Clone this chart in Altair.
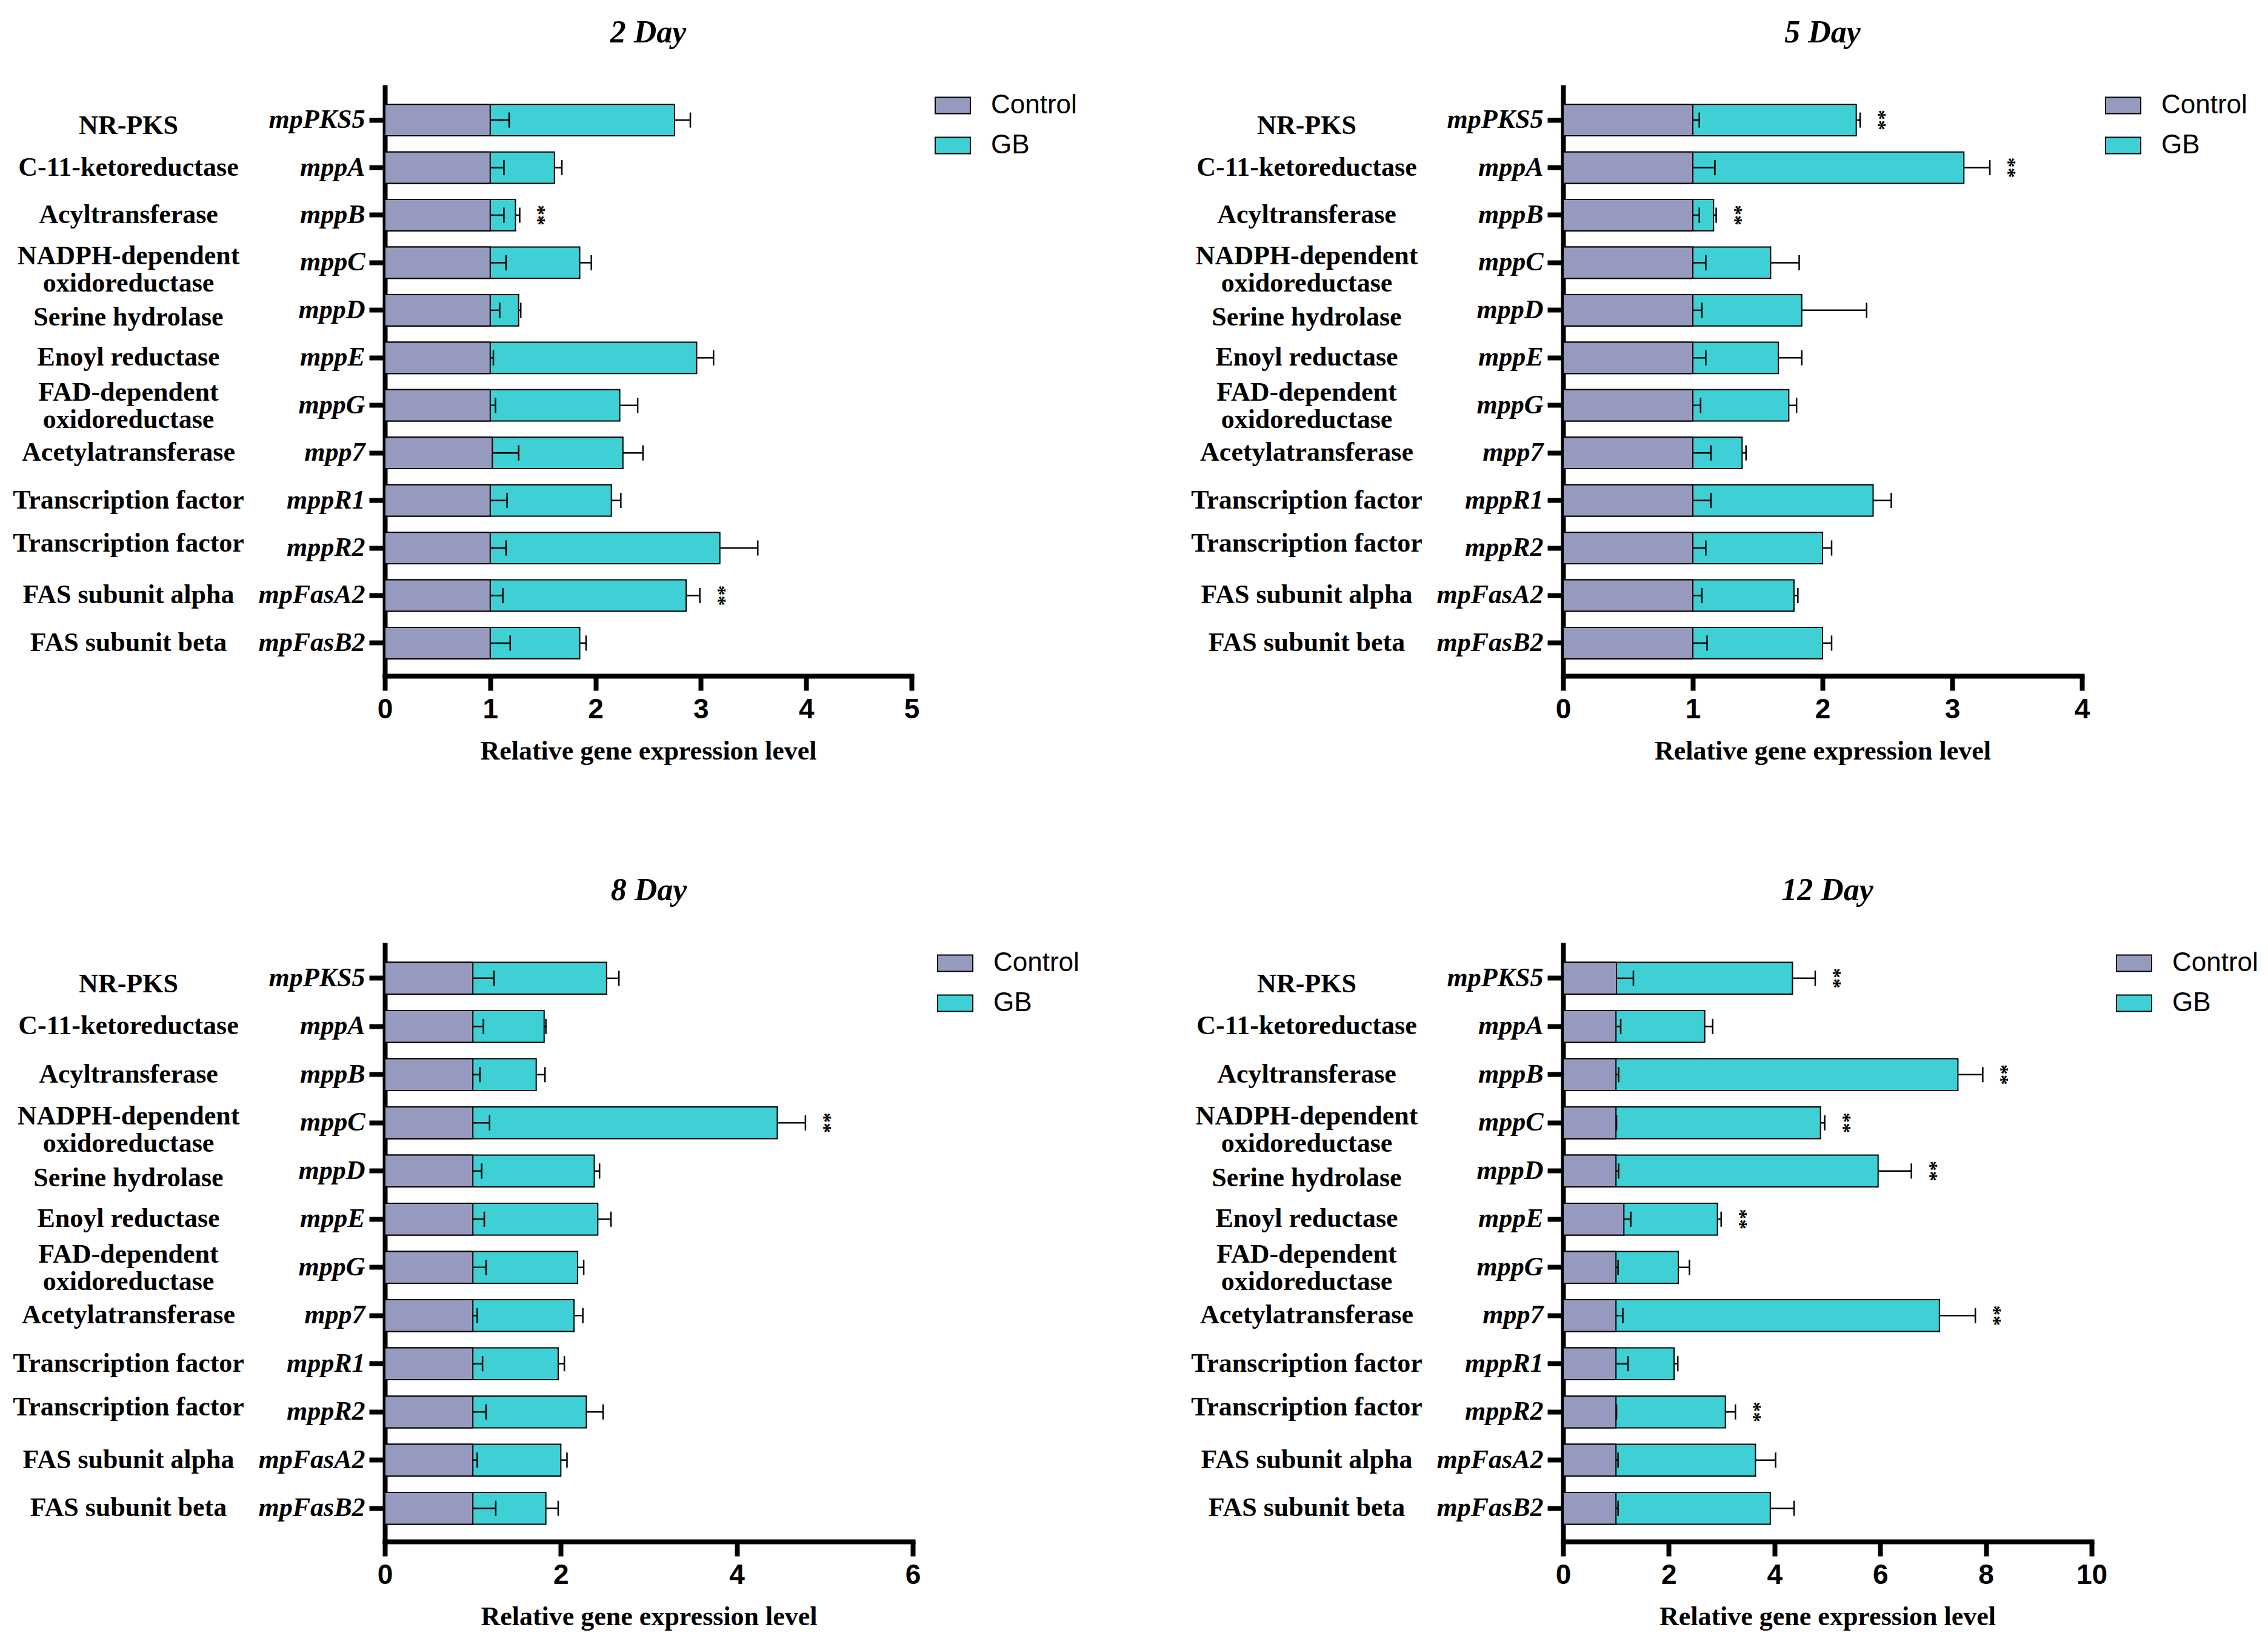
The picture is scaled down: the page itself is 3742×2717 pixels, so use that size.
import altair as alt
import pandas as pd
import json

genes = ["mpPKS5", "mppA", "mppB", "mppC", "mppD", "mppE", "mppG", "mpp7",
         "mppR1", "mppR2", "mpFasA2", "mpFasB2"]
functions = ["NR-PKS", "C-11-ketoreductase", "Acyltransferase",
             "NADPH-dependent\noxidoreductase", "Serine hydrolase", "Enoyl reductase",
             "FAD-dependent\noxidoreductase", "Acetylatransferase", "Transcription factor",
             "Transcription factor", "FAS subunit alpha", "FAS subunit beta"]
groups = ["Control", "GB"]

# 2 Day
ctrl_mean_2 = [1.0, 1.0, 1.0, 1.0, 1.0, 1.0, 1.0, 1.02, 1.0, 1.0, 1.0, 1.0]
ctrl_sd_2 = [0.18, 0.13, 0.13, 0.15, 0.09, 0.03, 0.05, 0.25, 0.16, 0.15, 0.12, 0.19]
gb_mean_2 = [2.75, 1.61, 1.24, 1.85, 1.27, 2.96, 2.23, 2.26, 2.15, 3.18, 2.86, 1.85]
gb_sd_2 = [0.15, 0.07, 0.04, 0.11, 0.02, 0.16, 0.17, 0.19, 0.09, 0.36, 0.13, 0.06]
sig_2 = ["mppB", "mpFasA2"]

# 5 Day
ctrl_mean_5 = [1.0] * 12
ctrl_sd_5 = [0.05, 0.17, 0.05, 0.10, 0.07, 0.10, 0.06, 0.14, 0.14, 0.10, 0.07, 0.11]
gb_mean_5 = [2.26, 3.09, 1.16, 1.60, 1.84, 1.66, 1.74, 1.38, 2.39, 2.00, 1.78, 2.00]
gb_sd_5 = [0.03, 0.20, 0.02, 0.22, 0.50, 0.18, 0.06, 0.03, 0.14, 0.07, 0.03, 0.07]
sig_5 = ["mpPKS5", "mppA", "mppB"]

# 8 Day
ctrl_mean_8 = [1.0] * 12
ctrl_sd_8 = [0.24, 0.12, 0.08, 0.19, 0.10, 0.13, 0.15, 0.05, 0.11, 0.15, 0.05, 0.26]
gb_mean_8 = [2.52, 1.81, 1.72, 4.46, 2.38, 2.42, 2.19, 2.15, 1.97, 2.29, 2.00, 1.83]
gb_sd_8 = [0.14, 0.02, 0.10, 0.32, 0.06, 0.15, 0.07, 0.10, 0.07, 0.19, 0.07, 0.14]
sig_8 = ["mppC"]

# 12 Day
ctrl_mean_12 = [1.01, 1.0, 1.0, 1.0, 1.0, 1.15, 1.0, 1.0, 1.0, 1.0, 1.0, 1.0]
ctrl_sd_12 = [0.32, 0.09, 0.05, 0.01, 0.05, 0.13, 0.04, 0.13, 0.23, 0.01, 0.04, 0.04]
gb_mean_12 = [4.34, 2.68, 7.47, 4.87, 5.96, 2.92, 2.18, 7.12, 2.10, 3.07, 3.64, 3.92]
gb_sd_12 = [0.43, 0.15, 0.47, 0.08, 0.63, 0.07, 0.21, 0.68, 0.07, 0.19, 0.38, 0.45]
sig_12 = ["mpPKS5", "mppB", "mppC", "mppD", "mppE", "mpp7", "mppR2"]

CTRL_COLOR = "#979ABF"
GB_COLOR = "#3ED0D4"
SERIF = "Liberation Serif"
SANS = "Liberation Sans"
NARROW = "Liberation Sans Narrow, Liberation Sans"
XTITLE = "Relative gene expression level"

# vertical nudges of the function labels (styling, px; first line for two-line labels)
FUNC_NUDGE = {10: ["mpPKS5"], -10: ["mppC"], 12: ["mppD"], -21: ["mppG"], -7: ["mppR2"]}
LEGEND_PATH = "M-1,-0.466H1V0.466H-1Z"


def panel(day, ctrl_mean, ctrl_sd, gb_mean, gb_sd, sig, xmax, xstep, w, h, legend_x):
    rows = []
    for i, g in enumerate(genes):
        rows.append(dict(gene=g, func=functions[i], group="GB", mean=gb_mean[i],
                         upper=gb_mean[i] + gb_sd[i], sig="**" if g in sig else ""))
        rows.append(dict(gene=g, func=functions[i], group="Control", mean=ctrl_mean[i],
                         upper=ctrl_mean[i] + ctrl_sd[i], sig=""))
    df = pd.DataFrame(rows)
    base = alt.Chart(df)

    yenc = alt.Y("gene:N", sort=genes, title=None,
                 scale=alt.Scale(paddingInner=0.34, paddingOuter=0.36),
                 axis=alt.Axis(labelFont=SERIF, labelFontSize=44, labelFontWeight="bold",
                               labelFontStyle="italic", labelColor="black", labelLimit=1000,
                               labelPadding=7, tickSize=26, tickWidth=8, tickColor="black",
                               domainWidth=8, domainColor="black", domainCap="square",
                               labelBaseline="middle", grid=False))
    xaxis = alt.Axis(values=list(range(0, xmax + 1, xstep)), title=XTITLE,
                     titleFont=SERIF, titleFontSize=44, titleFontWeight="bold",
                     titleColor="black", titlePadding=24,
                     labelFont=NARROW, labelFontSize=46, labelFontWeight="bold",
                     labelColor="black", labelPadding=9, labelFlush=False,
                     labelOverlap=False, tickSize=24, tickWidth=8, tickColor="black",
                     domainWidth=8, domainColor="black", domainCap="square", grid=False)
    xscale = alt.Scale(domain=[0, xmax], nice=False, zero=True)
    color = alt.Color("group:N",
                      scale=alt.Scale(domain=groups, range=[CTRL_COLOR, GB_COLOR]),
                      legend=alt.Legend(orient="none", legendX=legend_x, legendY=0,
                                        title=None, padding=0, symbolType=LEGEND_PATH,
                                        symbolSize=3364, symbolStrokeColor="black",
                                        symbolStrokeWidth=2, symbolOpacity=1,
                                        labelFont=SANS, labelFontSize=44,
                                        labelColor="black", labelOffset=33,
                                        rowPadding=14, labelLimit=1000))

    gb_bar = base.transform_filter("datum.group == 'GB'").mark_bar(
        stroke="black", strokeWidth=2, opacity=1).encode(
        x=alt.X("mean:Q", scale=xscale, axis=xaxis), y=yenc, color=color)
    ctrl_bar = base.transform_filter("datum.group == 'Control'").mark_bar(
        stroke="black", strokeWidth=2, opacity=1).encode(
        x=alt.X("mean:Q", scale=xscale, axis=xaxis), y=yenc, color=color)
    err = base.mark_rule(color="black", strokeWidth=2.5).encode(
        x=alt.X("mean:Q", scale=xscale, axis=xaxis), x2="upper:Q", y=yenc)
    cap = base.mark_tick(color="black", thickness=2.5, size=25, opacity=1).encode(
        x=alt.X("upper:Q", scale=xscale, axis=xaxis), y=yenc)
    stars = base.transform_filter("datum.group == 'GB' && datum.sig != ''").mark_text(
        angle=90, dy=-30, font=SERIF, fontSize=34, fontWeight="bold", color="black",
        align="center", baseline="middle").encode(
        x=alt.X("upper:Q", scale=xscale, axis=xaxis), y=yenc, text="sig:N")

    nudged = [g for lst in FUNC_NUDGE.values() for g in lst]
    text_kw = dict(font=SERIF, fontSize=44, fontWeight="bold", color="black",
                   align="center", baseline="middle", lineBreak="\n", lineHeight=45)
    func_layers = [base.transform_filter(
        "datum.group == 'GB' && indexof(%s, datum.gene) < 0" % json.dumps(nudged)
    ).mark_text(**text_kw).encode(x=alt.value(-423), y=yenc, text="func:N")]
    for off, gl in FUNC_NUDGE.items():
        func_layers.append(base.transform_filter(
            "datum.group == 'GB' && indexof(%s, datum.gene) >= 0" % json.dumps(gl)
        ).mark_text(dy=off, **text_kw).encode(x=alt.value(-423), y=yenc, text="func:N"))

    return alt.layer(gb_bar, ctrl_bar, err, cap, stars, *func_layers).properties(
        width=w, height=h,
        title=alt.TitleParams(text=day, font=SERIF, fontSize=52, fontWeight="bold",
                              fontStyle="italic", color="black", anchor="middle",
                              frame="group", offset=22, baseline="alphabetic"))


pA = panel("2 Day", ctrl_mean_2, ctrl_sd_2, gb_mean_2, gb_sd_2, sig_2, 5, 1, 869, 971, 907)
pB = panel("5 Day", ctrl_mean_5, ctrl_sd_5, gb_mean_5, gb_sd_5, sig_5, 4, 1, 856, 971, 894)
pC = panel("8 Day", ctrl_mean_8, ctrl_sd_8, gb_mean_8, gb_sd_8, sig_8, 6, 2, 871, 984, 911)
pD = panel("12 Day", ctrl_mean_12, ctrl_sd_12, gb_mean_12, gb_sd_12, sig_12, 10, 2, 872, 984, 912)

chart = alt.concat(pA, pB, pC, pD, columns=2, spacing={"row": 444, "column": 1073},
                   bounds="flush").resolve_scale(
    x="independent", y="independent", color="independent").resolve_legend(
    color="independent").properties(
    padding={"left": 13, "top": 20, "right": 5, "bottom": 5},
    background="white"
).configure_view(strokeWidth=0, stroke="transparent")

chart.save("out.html", embed_options={"renderer": "svg", "actions": False})
